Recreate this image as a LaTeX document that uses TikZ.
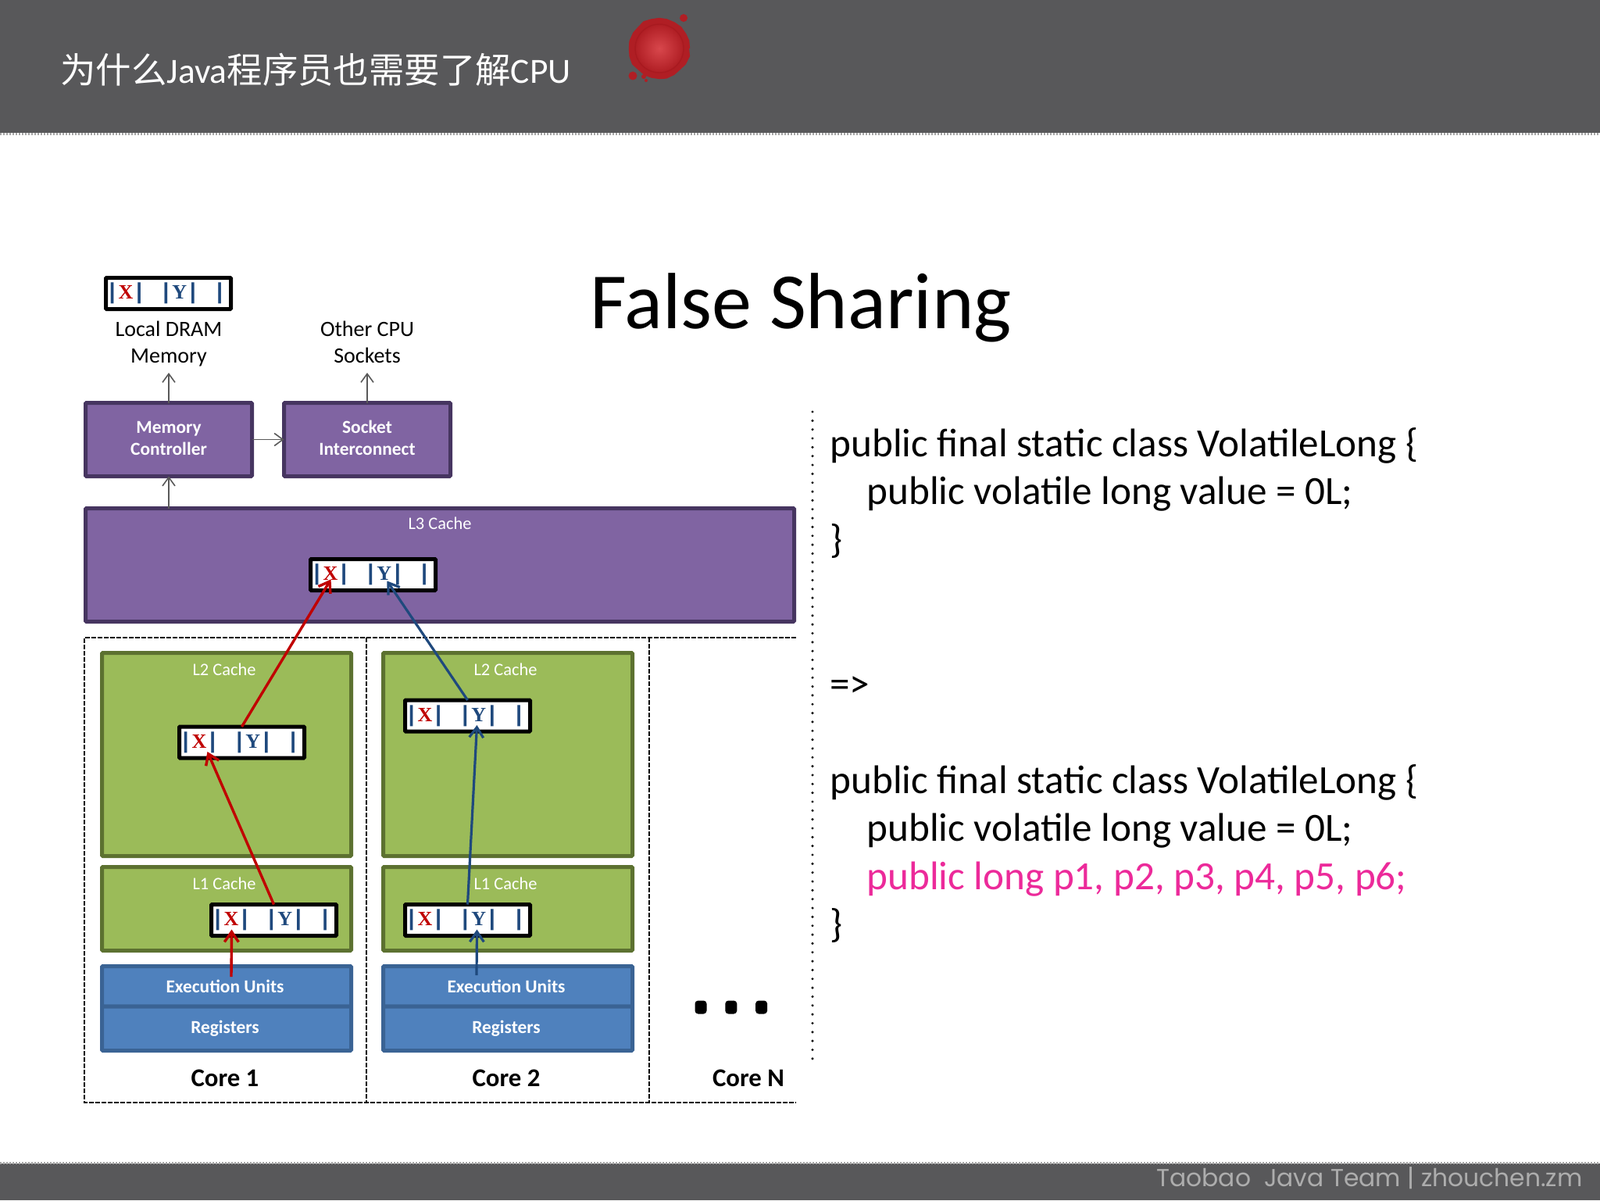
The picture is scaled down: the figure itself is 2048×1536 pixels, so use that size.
\documentclass[tikz,border=0pt]{standalone}
\usepackage{fontspec}
\usepackage{xcolor}
\setmainfont{Carlito}
\newfontfamily\cjk{Noto Sans CJK SC}
\newfontfamily\linefont{Liberation Mono}
\newfontfamily\letterfont{Liberation Serif}
\newfontfamily\footfont{Poppins}
\usetikzlibrary{arrows.meta,positioning,decorations.pathmorphing}

\definecolor{barcol}{HTML}{58585A}
\definecolor{purplefill}{HTML}{8064A2}
\definecolor{purpleedge}{HTML}{463560}
\definecolor{greenfill}{HTML}{9BBB59}
\definecolor{greenedge}{HTML}{5C7130}
\definecolor{bluefill}{HTML}{4F81BD}
\definecolor{blueedge}{HTML}{3A6394}
\definecolor{linered}{HTML}{C00000}
\definecolor{lineblue}{HTML}{1F497D}
\definecolor{codepink}{HTML}{EC2A9A}
\definecolor{sealedge}{HTML}{B01E24}
\definecolor{sealmid}{HTML}{D8474C}
\definecolor{sealrim}{HTML}{A81A20}

\tikzset{
  box/.style={draw, line width=2.5pt, rounded corners=0.6pt, outer sep=0pt, inner sep=0pt,
    text=white, align=center, font=\fontsize{11.7}{14}\selectfont\bfseries},
  purplebox/.style={box, fill=purplefill, draw=purpleedge},
  greenbox/.style={box, fill=greenfill, draw=greenedge, minimum width=159.5pt},
  bluebox/.style={box, fill=bluefill, draw=blueedge, minimum width=159.5pt},
  boxlabel/.style={text=white, inner sep=0pt, font=\fontsize{11.2}{13}\selectfont},
  linebox/.style={draw, fill=white, line width=2.5pt, rounded corners=0.5pt, outer sep=0pt, inner sep=0pt,
    minimum width=80pt, minimum height=20pt, font=\fontsize{14.3}{14.3}\selectfont\linefont\bfseries},
  plainlabel/.style={inner sep=0pt, outer sep=0pt, minimum height=39pt, align=center, font=\fontsize{14}{17}\selectfont},
  corelabel/.style={inner sep=0pt, font=\fontsize{16.4}{16.4}\selectfont\bfseries},
  codeline/.style={anchor=base west, inner sep=0pt, font=\fontsize{25.6}{25.6}\selectfont},
  greyarrow/.style={-{Straight Barb[length=5.5pt,width=8pt]}, draw=black!65, line width=0.8pt},
  redarrow/.style={-{Straight Barb[length=6.5pt,width=9pt]}, draw=linered, line width=1.7pt},
  bluearrow/.style={-{Straight Barb[length=6.5pt,width=9pt]}, draw=lineblue, line width=1.6pt},
  framepart/.style={line width=0.9pt, dash pattern=on 3pt off 1pt},
  dot/.style={fill=black, rounded corners=2pt, minimum width=7.5pt, minimum height=8.5pt, inner sep=0pt}
}

\newcommand{\linebar}{\makebox[8.6pt]{\textcolor{lineblue}{|}}}
\newcommand{\lineletter}[2]{\makebox[8.6pt]{\fontsize{13}{13}\selectfont\letterfont\bfseries\textcolor{#1}{#2}}}
\newcommand{\cacheline}[2]{
  \node[linebox] (#1) at #2 {\makebox[70pt]{\linebar\lineletter{linered}{X}\linebar\makebox[8.6pt]{}\linebar\lineletter{lineblue}{Y}\linebar\makebox[8.6pt]{}\linebar\kern3pt}};
  \coordinate (#1x) at ([xshift=-27pt,yshift=-6pt]#1.center);
  \coordinate (#1y) at ([xshift=6pt,yshift=-6pt]#1.center);
}
\newcommand{\lowerpad}{\rule[-2pt]{0pt}{0pt}}

\begin{document}
\begin{tikzpicture}[x=0.5pt, y=-0.5pt]
  \useasboundingbox (0,0) rectangle (2048,1536);

  % header and footer
  \fill[barcol] (0,0) rectangle (2048,170);
  \fill[barcol] (0,1489) rectangle (2048,1536);
  \draw[black!35, line width=1.5pt, dash pattern=on 1pt off 1pt] (0,171) -- (2048,171);
  \draw[black!35, line width=1.5pt, dash pattern=on 1pt off 1pt] (0,1488) -- (2048,1488);
  \node[anchor=base west, inner sep=0pt, text=white, font=\fontsize{22.7}{22.7}\selectfont] (toptitle) at (77,106)
    {{\cjk 为什么}Java{\cjk 程序员也需要了解}CPU};
  \node[anchor=base east, inner sep=0pt, text=black!32, font=\fontsize{15.7}{15.7}\selectfont\footfont] (foottext) at (2026,1518)
    {Taobao\ \ Java Team | zhouchen.zm};

  % wax seal
  \fill[sealedge, decorate, decoration={random steps, segment length=5pt, amplitude=0.6pt}] (844,62) circle (38);
  \shade[inner color=sealmid, outer color=sealedge] (844,62) circle (31);
  \draw[sealrim, line width=0.7pt] (844,62) circle (31);
  \fill[sealedge] (875,23) circle (5) (810,97) circle (5.5) (824,98) circle (3) (827,103) circle (2);

  \node[font=\fontsize{51}{51}\selectfont, anchor=base, inner sep=0pt] (bigtitle) at (1025,420) {False Sharing};

  % top of the hierarchy
  \node[purplebox, minimum width=106.5pt, minimum height=47pt] (mem) at (216,562.5) {Memory\\Controller\lowerpad};
  \node[purplebox, minimum width=106.5pt, minimum height=47pt] (sock) [right=20.5pt of mem] {Socket\\Interconnect\lowerpad};
  \node[plainlabel] (dram) [above=19.25pt of mem] {Local DRAM\\\smash{Memory}};
  \node[plainlabel] (other) [above=19.25pt of sock] {Other CPU\\Sockets};
  \node[purplebox, minimum width=453.5pt, minimum height=72.5pt] (l3) at (563,723) {};
  \node[boxlabel] (l3label) at (563,670) {L3 Cache};

  \cacheline{linemem}{(215.5,375.5)}
  \cacheline{linethree}{(477.5,735.5)}

  % cores
  \node[greenbox, minimum height=130pt] (l2a) at (290,965.5) {};
  \node[greenbox, minimum height=53.5pt] (l1a) [below=7pt of l2a] {};
  \node[bluebox, minimum height=25.75pt] (execa) [below=10pt of l1a] {Execution Units\kern2pt};
  \node[bluebox, minimum height=28.25pt] (rega) [below=0pt of execa] {Registers\kern2pt};
  \node[greenbox, minimum height=130pt] (l2b) [right=20.5pt of l2a] {};
  \node[greenbox, minimum height=53.5pt] (l1b) [below=7pt of l2b] {};
  \node[bluebox, minimum height=25.75pt] (execb) [below=10pt of l1b] {Execution Units\kern2pt};
  \node[bluebox, minimum height=28.25pt] (regb) [below=0pt of execb] {Registers\kern2pt};

  \node[boxlabel] (l2alabel) at ([xshift=-1.5pt,yshift=-10.75pt]l2a.north) {L2 Cache};
  \node[boxlabel] (l1alabel) at ([xshift=-1.5pt,yshift=-10.5pt]l1a.north) {L1 Cache};
  \node[boxlabel] (l2blabel) at ([xshift=-1.5pt,yshift=-10.75pt]l2b.north) {L2 Cache};
  \node[boxlabel] (l1blabel) at ([xshift=-1.5pt,yshift=-10.5pt]l1b.north) {L1 Cache};

  \cacheline{linetwoa}{(309.5,950)}
  \cacheline{lineonea}{(350.5,1177.5)}
  \cacheline{linetwob}{(598.5,916)}
  \cacheline{lineoneb}{(598.5,1177.5)}

  \node[corelabel] (corea) at (288,1380) {Core 1};
  \node[corelabel] (coreb) at (648,1380) {Core 2};
  \node[corelabel] (coren) at (958,1380) {Core N};
  \node[dot] (dota) at (897,1289) {};
  \node[dot] (dotb) [right=11.5pt of dota] {};
  \node[dot] (dotc) [right=11.5pt of dotb] {};

  % core frame
  \coordinate (framea) at (108,816);
  \coordinate (frameb) at (1019,816);
  \coordinate (framec) at (1019,1411);
  \coordinate (framed) at (108,1411);
  \draw[framepart] (frameb) -- (framea) -- (framed) -- (framec);
  \draw[framepart] (469,816) -- (469,1411);
  \draw[framepart] (831,816) -- (831,1411);

  % divider
  \coordinate (divtop) at (1040,527);
  \coordinate (divbot) at (1040,1358);
  \draw[line width=1.7pt, line cap=round, dash pattern=on 0pt off 5.67pt] (divtop) -- (divbot);

  % arrows
  \draw[greyarrow] (mem) -- (dram);
  \draw[greyarrow] (sock) -- (other);
  \draw[greyarrow] (mem) -- (sock);
  \draw[greyarrow] (mem |- l3.north) -- (mem);

  \coordinate (starta) at (296,1250);
  \coordinate (startb) at (610,1248);
  \draw[redarrow] (starta) -- (lineoneax);
  \draw[redarrow] (lineonea.north) -- ([xshift=5pt]linetwoax);
  \draw[redarrow] (linetwoa.north) -- ([yshift=3pt]linethreex);
  \draw[bluearrow] (startb) -- (lineoneby);
  \draw[bluearrow] (lineoneb.north) -- (linetwoby);
  \draw[bluearrow] (linetwob.north) -- ([xshift=3pt,yshift=2pt]linethreey);

  % code
  \node[codeline] (codea) at (1062,584) {public final static class VolatileLong \{};
  \node[codeline] (codeb) at (1109,645) {public volatile long value = 0L;};
  \node[codeline] (codec) at (1062,707) {\}};
  \node[codeline] (coded) at (1062,892) {=>};
  \node[codeline] (codee) at (1062,1015) {public final static class VolatileLong \{};
  \node[codeline] (codef) at (1109,1076) {public volatile long value = 0L;};
  \node[codeline, text=codepink] (codeg) at (1109,1138) {public long p1, p2, p3, p4, p5, p6;};
  \node[codeline] (codeh) at (1062,1199) {\}};
\end{tikzpicture}
\end{document}
